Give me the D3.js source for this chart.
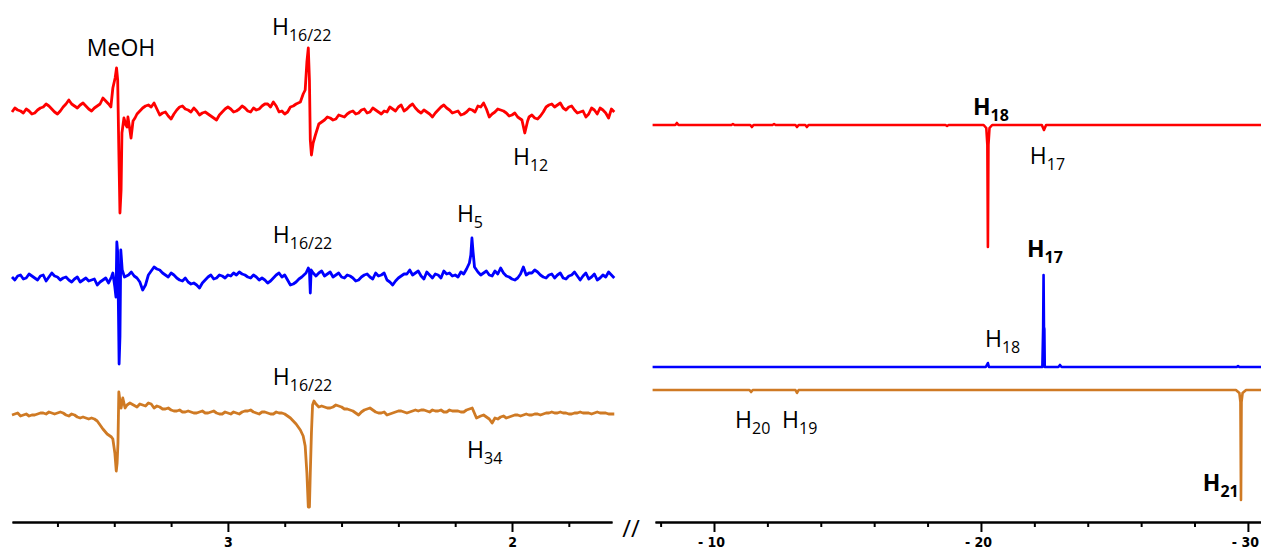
<!DOCTYPE html>
<html>
<head>
<meta charset="utf-8">
<script src="https://cdn.jsdelivr.net/npm/d3@7"></script>
<style>
  body { margin: 0; background: #fff; }
  svg { display: block; }
</style>
</head>
<body>
<div id="chart"></div>
<script>
// spectra: [ppm, intensity]
const leftRed = [[3.76,-2],[3.74,0],[3.72,-3],[3.70,-1],[3.68,-3],[3.66,2],[3.64,6],[3.62,1],[3.60,-4],[3.58,3],[3.56,10],[3.54,4],[3.52,5],[3.50,4],[3.48,-1],[3.46,4],[3.44,12],[3.42,6],[3.412,3],[3.405,22],[3.397,32],[3.392,42],[3.388,30],[3.384,-40],[3.380,-103],[3.376,-80],[3.373,-23],[3.366,-8],[3.359,-15],[3.355,-17],[3.352,-7],[3.345,-20],[3.341,-28],[3.334,-11],[3.327,-8],[3.32,-4],[3.30,2],[3.28,5],[3.26,7],[3.24,-5],[3.22,-2],[3.20,-9],[3.18,0],[3.16,4],[3.14,0],[3.12,2],[3.10,-5],[3.08,-2],[3.06,-6],[3.04,-10],[3.02,-2],[3.00,3],[2.98,-2],[2.96,1],[2.94,2],[2.92,-2],[2.90,0],[2.88,4],[2.86,6],[2.84,8],[2.82,-2],[2.80,-4],[2.78,3],[2.76,6],[2.745,8],[2.735,16],[2.728,20],[2.722,48],[2.717,62],[2.713,30],[2.710,-30],[2.706,-45],[2.700,-33],[2.692,-25],[2.68,-14],[2.66,-10],[2.64,-8],[2.62,-9],[2.60,-6],[2.58,-4],[2.56,-1],[2.54,-3],[2.52,1],[2.50,-2],[2.48,0],[2.46,-4],[2.44,-2],[2.42,1],[2.40,3],[2.38,-1],[2.36,4],[2.34,2],[2.32,-3],[2.30,-2],[2.28,-7],[2.26,0],[2.24,5],[2.22,0],[2.20,-2],[2.18,-5],[2.16,-2],[2.14,0],[2.12,4],[2.10,7],[2.08,-7],[2.06,-2],[2.04,0],[2.02,-3],[2.00,-5],[1.98,-7],[1.965,-10],[1.955,-23],[1.945,-11],[1.94,-7],[1.92,-8],[1.90,-6],[1.88,3],[1.86,6],[1.84,5],[1.82,2],[1.80,3],[1.78,0],[1.76,-2],[1.74,-7],[1.72,2],[1.70,-4],[1.68,0],[1.66,-8],[1.64,-2]];
const leftRedNoise = [[3.75,2],[3.73,-1],[3.71,1],[3.69,-4],[3.67,0],[3.65,3],[3.63,4],[3.61,-2],[3.59,-1],[3.57,6],[3.55,6],[3.53,2],[3.51,7],[3.49,1],[3.47,2],[3.45,6],[3.43,9],[3.31,-1],[3.29,4],[3.27,3],[3.25,1],[3.23,-3],[3.21,-6],[3.19,-4],[3.17,3],[3.15,1],[3.13,-2],[3.11,-1],[3.09,-3],[3.07,-4],[3.05,-8],[3.03,-5],[3.01,1],[2.99,1],[2.97,-1],[2.95,4],[2.93,-1],[2.91,2],[2.89,1],[2.87,6],[2.85,3],[2.83,4],[2.81,-1],[2.79,-2],[2.77,4],[2.67,-12],[2.65,-7],[2.63,-10],[2.61,-5],[2.59,-7],[2.57,-2],[2.55,-4],[2.53,0],[2.51,-3],[2.49,2],[2.47,-2],[2.45,-1],[2.43,3],[2.41,-1],[2.39,5],[2.37,1],[2.35,6],[2.33,-1],[2.31,0],[2.29,-4],[2.27,-3],[2.25,3],[2.23,2],[2.21,-3],[2.19,-1],[2.17,-4],[2.15,1],[2.13,-2],[2.11,3],[2.09,1],[2.07,-4],[2.05,1],[2.03,-1],[2.01,-6],[1.99,-3],[1.93,-5],[1.91,-9],[1.89,-2],[1.87,5],[1.85,3],[1.83,7],[1.81,0],[1.79,4],[1.77,-3],[1.75,-1],[1.73,-4],[1.71,0],[1.69,2],[1.67,-3],[1.65,1]];

const leftBlue = [[3.76,0],[3.74,1],[3.72,-2],[3.70,3],[3.68,-1],[3.66,1],[3.64,-4],[3.62,4],[3.60,0],[3.58,-1],[3.56,-3],[3.54,-2],[3.52,-5],[3.50,-1],[3.48,-3],[3.46,-8],[3.44,-3],[3.42,-6],[3.41,0],[3.405,4],[3.398,-10],[3.394,-20],[3.391,35],[3.388,25],[3.385,-40],[3.383,-87],[3.380,-60],[3.377,27],[3.372,7],[3.364,0],[3.34,5],[3.32,-1],[3.30,-13],[3.28,2],[3.26,10],[3.24,7],[3.22,2],[3.20,4],[3.18,-1],[3.16,-4],[3.14,-5],[3.12,-6],[3.10,-11],[3.08,-3],[3.06,2],[3.04,-1],[3.02,1],[3.00,2],[2.98,4],[2.96,5],[2.94,2],[2.92,-1],[2.90,0],[2.88,-1],[2.86,-6],[2.84,-1],[2.82,4],[2.80,2],[2.78,-8],[2.76,-5],[2.74,0],[2.725,4],[2.717,9],[2.713,6],[2.710,-16],[2.707,7],[2.70,4],[2.68,4],[2.66,1],[2.64,5],[2.62,2],[2.60,0],[2.58,2],[2.56,-1],[2.54,-3],[2.52,2],[2.50,0],[2.48,4],[2.46,2],[2.44,-3],[2.42,-8],[2.40,-1],[2.38,3],[2.36,7],[2.34,4],[2.32,1],[2.30,5],[2.28,-1],[2.26,2],[2.24,6],[2.22,4],[2.20,2],[2.18,5],[2.16,8],[2.150,14],[2.145,22],[2.141,39],[2.137,25],[2.132,10],[2.12,5],[2.10,4],[2.08,2],[2.06,6],[2.04,9],[2.02,1],[2.00,-2],[1.98,-1],[1.96,10],[1.94,4],[1.92,7],[1.90,2],[1.88,-1],[1.86,3],[1.84,2],[1.82,-1],[1.80,1],[1.78,5],[1.76,-3],[1.74,4],[1.72,0],[1.70,-3],[1.68,2],[1.66,5],[1.64,-1]];
const leftBlueNoise = [[3.75,-3],[3.73,2],[3.71,-1],[3.69,1],[3.67,-3],[3.65,2],[3.63,0],[3.61,1],[3.59,-3],[3.57,0],[3.55,-5],[3.53,0],[3.51,-3],[3.49,-4],[3.47,-2],[3.45,-5],[3.43,-1],[3.35,2],[3.33,1],[3.31,-5],[3.29,-8],[3.27,6],[3.25,8],[3.23,4],[3.21,0],[3.19,2],[3.17,-3],[3.15,-1],[3.13,-7],[3.11,-8],[3.09,-6],[3.07,0],[3.05,-2],[3.03,2],[3.01,-1],[2.99,1],[2.97,2],[2.95,3],[2.93,0],[2.91,2],[2.89,-3],[2.87,-3],[2.85,-4],[2.83,2],[2.81,0],[2.79,-3],[2.77,-7],[2.75,-2],[2.69,1],[2.67,6],[2.65,3],[2.63,0],[2.61,4],[2.59,-1],[2.57,1],[2.55,-4],[2.53,0],[2.51,3],[2.49,-2],[2.47,1],[2.45,4],[2.43,-5],[2.41,-4],[2.39,1],[2.37,3],[2.35,2],[2.33,6],[2.31,-2],[2.29,2],[2.27,3],[2.25,-1],[2.23,3],[2.21,1],[2.19,0],[2.17,3],[2.11,2],[2.09,6],[2.07,1],[2.05,3],[2.03,4],[2.01,0],[1.99,-3],[1.97,3],[1.95,2],[1.93,4],[1.91,5],[1.89,0],[1.87,2],[1.85,-1],[1.83,4],[1.81,-2],[1.79,2],[1.77,1],[1.75,1],[1.73,-2],[1.71,3],[1.69,-1],[1.67,0],[1.65,2]];

const leftOrange = [[3.76,-2],[3.74,0],[3.72,-2],[3.70,-3],[3.68,-2],[3.66,0],[3.64,-1],[3.62,0],[3.60,0],[3.58,0],[3.56,-3],[3.54,-2],[3.52,-5],[3.50,-5],[3.48,-5],[3.46,-8],[3.44,-16],[3.425,-21],[3.41,-24],[3.405,-26],[3.398,-40],[3.393,-58],[3.390,-50],[3.387,-30],[3.384,21],[3.380,12],[3.376,5],[3.370,15],[3.362,5],[3.355,8],[3.345,10],[3.32,6],[3.30,8],[3.28,10],[3.26,5],[3.24,6],[3.22,4],[3.20,3],[3.18,2],[3.16,1],[3.14,2],[3.12,0],[3.10,1],[3.08,0],[3.06,1],[3.04,0],[3.02,-1],[3.00,0],[2.98,1],[2.96,-1],[2.94,2],[2.92,3],[2.90,0],[2.88,1],[2.86,0],[2.84,-1],[2.82,0],[2.80,-1],[2.78,-5],[2.76,-11],[2.745,-17],[2.735,-23],[2.728,-33],[2.722,-60],[2.717,-94],[2.713,-94],[2.710,-60],[2.706,-20],[2.702,8],[2.697,12],[2.69,9],[2.68,6],[2.66,6],[2.64,5],[2.62,8],[2.60,6],[2.58,4],[2.56,2],[2.54,-2],[2.52,3],[2.50,5],[2.48,1],[2.46,0],[2.44,-2],[2.42,0],[2.40,2],[2.38,1],[2.36,1],[2.34,3],[2.32,3],[2.30,2],[2.28,3],[2.26,2],[2.24,1],[2.22,3],[2.20,2],[2.18,1],[2.16,3],[2.14,5],[2.125,-5],[2.11,-3],[2.10,-2],[2.08,-6],[2.07,-10],[2.06,-5],[2.04,-4],[2.02,-5],[2.00,-3],[1.98,-2],[1.96,-2],[1.94,-2],[1.92,-1],[1.90,-2],[1.88,0],[1.86,1],[1.84,0],[1.82,0],[1.80,-1],[1.78,0],[1.76,1],[1.74,0],[1.72,-1],[1.70,1],[1.68,0],[1.66,-1],[1.64,-1]];
const leftOrangeNoise = [[3.75,-1],[3.73,-3],[3.71,-1],[3.69,-2],[3.67,-1],[3.65,0],[3.63,1],[3.61,-1],[3.59,1],[3.57,-2],[3.55,-1],[3.53,-4],[3.51,-4],[3.49,-6],[3.47,-6],[3.31,9],[3.29,7],[3.27,9],[3.25,7],[3.23,4],[3.21,5],[3.19,2],[3.17,3],[3.15,1],[3.13,1],[3.11,0],[3.09,2],[3.07,0],[3.05,2],[3.03,-1],[3.01,1],[2.99,-1],[2.97,0],[2.95,1],[2.93,2],[2.91,1],[2.89,-1],[2.87,1],[2.85,-1],[2.83,1],[2.81,0],[2.79,-3],[2.67,7],[2.65,5],[2.63,6],[2.61,7],[2.59,4],[2.57,3],[2.55,0],[2.53,1],[2.51,4],[2.49,3],[2.47,0],[2.45,1],[2.43,-1],[2.41,1],[2.39,2],[2.37,0],[2.35,2],[2.33,2],[2.31,3],[2.29,1],[2.27,2],[2.25,3],[2.23,1],[2.21,2],[2.19,2],[2.17,1],[2.15,4],[2.05,-6],[2.03,-3],[2.01,-4],[1.99,-2],[1.97,-3],[1.95,-1],[1.93,-2],[1.91,-1],[1.89,-1],[1.87,0],[1.85,0],[1.83,1],[1.81,0],[1.79,-1],[1.77,0],[1.75,0],[1.73,0],[1.71,0],[1.69,0],[1.67,0],[1.65,-1]];

const rightRed = [[-7.70,0],[-8.55,0],[-8.61,2],[-8.67,0],[-10.65,0],[-10.71,1],[-10.77,0],[-11.36,0],[-11.42,-2],[-11.48,0],[-12.19,0],[-12.25,1],[-12.31,0],[-13.05,0],[-13.11,-2],[-13.17,0],[-13.42,0],[-13.48,-2],[-13.54,0],[-18.67,0],[-18.73,-1],[-18.79,0],[-20.10,0],[-20.20,-3],[-20.24,-20],[-20.26,-122],[-20.28,-20],[-20.32,-3],[-20.42,0],[-22.28,0],[-22.36,-5],[-22.44,0],[-30.49,0]];

const rightBlue = [[-7.70,0],[-20.18,0],[-20.24,3],[-20.26,4],[-20.30,0],[-22.30,0],[-22.33,40],[-22.345,92],[-22.36,40],[-22.375,38],[-22.39,0],[-22.90,0],[-22.96,2],[-23.02,0],[-29.58,0],[-29.63,1],[-29.68,0],[-30.49,0]];

const rightOrange = [[-7.70,0],[-11.33,0],[-11.39,-2],[-11.45,0],[-13.05,0],[-13.11,-3],[-13.17,0],[-29.55,0],[-29.68,-3],[-29.72,-12],[-29.74,-110],[-29.76,-12],[-29.80,-3],[-29.93,0],[-30.49,0]];

// axis ticks (ppm)
const leftMajorTicks = [3, 2];
const leftMinorTicks = [3.6, 3.4, 3.2, 2.8, 2.6, 2.4, 2.2, 1.8];
const rightMajorTicks = [-10, -20, -30];
const rightMinorTicks = [-8, -12, -14, -16, -18, -22, -24, -26, -28];

// peak labels: [text, subscript, ppm, intensity, panel, trace, bold]
const peakLabels = [
  ["MeOH", "", 3.4965, 54, "left", "red", false],
  ["H", "16/22", 2.845, 75, "left", "red", false],
  ["H", "12", 1.9965, -55, "left", "red", false],
  ["H", "16/22", 2.842, 34, "left", "blue", false],
  ["H", "5", 2.194, 55, "left", "blue", false],
  ["H", "16/22", 2.842, 28, "left", "orange", false],
  ["H", "34", 2.158, -45, "left", "orange", false],
  ["H", "18", -19.70, 10, "right", "red", true],
  ["H", "17", -21.83, -39, "right", "red", false],
  ["H", "17", -21.72, 110, "right", "blue", true],
  ["H", "18", -20.15, 20, "right", "blue", false],
  ["H", "20", -10.79, -38, "right", "orange", false],
  ["H", "19", -12.55, -38, "right", "orange", false],
  ["H", "21", -28.31, -101, "right", "orange", true]
];

const width = 1261;
const height = 554;
const axisY = 522;

const colors = { red: "#ff0000", blue: "#0000ff", orange: "#cf7a24" };
const baselines = {
  left: { red: 110, blue: 277, orange: 413 },
  right: { red: 125, blue: 367, orange: 390 }
};

const xLeft = d3.scaleLinear().domain([3.76, 1.648]).range([12, 612]);
const xRight = d3.scaleLinear().domain([-7.79, -30.49]).range([655, 1261]);
const yScale = d3.scaleLinear().domain([0, 100]).range([0, -100]);
const xScales = { left: xLeft, right: xRight };

const svg = d3.select("#chart")
              .append("svg")
              .attr("width", width)
              .attr("height", height);

const merge = (a, b) => a.concat(b).sort((p, q) => q[0] - p[0]);

const traces = [
  ["left", "red", merge(leftRed, leftRedNoise)],
  ["left", "blue", merge(leftBlue, leftBlueNoise)],
  ["left", "orange", merge(leftOrange, leftOrangeNoise)],
  ["right", "red", rightRed],
  ["right", "blue", rightBlue],
  ["right", "orange", rightOrange]
];

traces.forEach(([panel, trace, data]) => {
  const x = xScales[panel];
  const line = d3.line()
                 .x(d => x(d[0]))
                 .y(d => yScale(d[1]));
  svg.append("path")
     .datum(data)
     .attr("transform", `translate(0,${baselines[panel][trace]})`)
     .attr("d", line)
     .attr("fill", "none")
     .attr("stroke", colors[trace])
     .attr("stroke-width", panel === "left" ? 2.8 : 2.6)
     .attr("stroke-linejoin", "round");
});

// axes
const drawAxis = (x, major, minor, fmt, shift) => {
  const g = svg.append("g").attr("transform", `translate(0,${axisY})`);
  g.call(d3.axisBottom(x).tickValues(minor).tickSize(5).tickSizeOuter(0).tickFormat(""));
  const gm = svg.append("g").attr("transform", `translate(0,${axisY})`);
  gm.call(d3.axisBottom(x).tickValues(major).tickSize(10).tickSizeOuter(0).tickFormat(fmt));
  [g, gm].forEach(a => {
    a.select(".domain").attr("stroke", "#000").attr("stroke-width", 2.2);
    a.selectAll(".tick line").attr("stroke", "#000").attr("stroke-width", 2);
  });
  gm.selectAll(".tick text")
    .attr("x", shift)
    .attr("y", 15)
    .attr("dy", "0.71em")
    .attr("fill", "#000")
    .style("font-family", "'Liberation Sans Narrow', 'DejaVu Sans Condensed', sans-serif")
    .style("font-weight", "bold")
    .style("font-size", "14px");
};

drawAxis(xLeft, leftMajorTicks, leftMinorTicks, d => d3.format("d")(d), 0);
drawAxis(xRight, rightMajorTicks, rightMinorTicks, d => "- " + Math.abs(d), -3);

svg.append("text")
   .attr("x", 631)
   .attr("y", 537)
   .attr("text-anchor", "middle")
   .style("font-family", "'Open Sans', sans-serif")
   .style("font-size", "24px")
   .text("//");

// labels
peakLabels.forEach(([main, sub, ppm, value, panel, trace, bold]) => {
  const t = svg.append("text")
               .attr("x", xScales[panel](ppm))
               .attr("y", baselines[panel][trace] + yScale(value))
               .attr("fill", "#000")
               .style("font-family", "'Open Sans', sans-serif")
               .style("font-weight", bold ? "bold" : "normal")
               .style("font-size", "23px");
  t.append("tspan").text(main);
  if (sub) {
    t.append("tspan")
     .attr("dy", 6)
     .style("font-size", "16px")
     .text(sub);
  }
});
</script>
</body>
</html>
